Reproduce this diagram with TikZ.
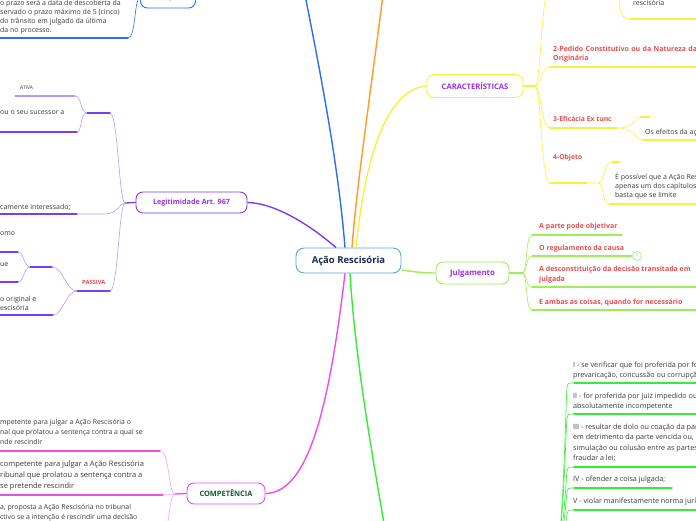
\documentclass[tikz,border=0pt]{standalone}
\usepackage{fontspec}
\setmainfont{Open Sans}
\usetikzlibrary{positioning}

\definecolor{rootline}{HTML}{5AA3E0}
\definecolor{roottext}{HTML}{1B2A4E}
\definecolor{topictext}{HTML}{9B30E8}
\definecolor{lbltext}{HTML}{E84C4C}
\definecolor{itemtext}{HTML}{3A3A3A}
\definecolor{compgreen}{HTML}{145A32}
\definecolor{blu}{HTML}{2D6CF5}
\definecolor{oran}{HTML}{FF9A22}
\definecolor{yel}{HTML}{F6F23A}
\definecolor{yell}{HTML}{FAF77A}
\definecolor{lime}{HTML}{9EEE55}
\definecolor{limel}{HTML}{B4F08A}
\definecolor{grn}{HTML}{33EE33}
\definecolor{mag}{HTML}{EE4CEE}
\definecolor{magl}{HTML}{F6A0F6}
\definecolor{vio}{HTML}{7A3EF2}
\definecolor{viol}{HTML}{B49CFA}

\tikzset{
  root/.style={draw=rootline, rounded corners=8pt, line width=0.9pt, fill=white,
    text=roottext, font=\bfseries\fontsize{9.5}{10}\selectfont,
    minimum width=105pt, minimum height=25pt},
  topic/.style={rounded corners=7pt, line width=0.9pt, fill=white, text=topictext,
    font=\bfseries\fontsize{7.2}{8}\selectfont, inner sep=0pt},
  txt/.style={anchor=north west, inner sep=0pt, align=left, text=itemtext,
    font=\fontsize{7}{9.5}\selectfont},
  lbl/.style={txt, text=lbltext, font=\bfseries\fontsize{7}{9.5}\selectfont},
  hyp/.style={txt, font=\fontsize{7.2}{9.8}\selectfont},
  branch/.style={line width=1.4pt},
  link/.style={line width=0.6pt},
  uline/.style={line width=1.3pt, line cap=round},
}

\begin{document}
\begin{tikzpicture}[x=1pt, y=-1pt]
  \useasboundingbox (0,0) rectangle (696,520);
  \clip (0,0) rectangle (696,520);

  % main topics
  \node[root] (acao) at (348.5,260.5) {Ação Rescisória};
  \node[topic, draw=yel, minimum width=96pt, minimum height=23pt,
    font=\bfseries\fontsize{7.6}{8}\selectfont] (carac) at (475,86) {CARACTERÍSTICAS};
  \node[topic, draw=lime, minimum width=73pt, minimum height=22pt,
    font=\bfseries\fontsize{7.8}{8}\selectfont] (julg) at (472.5,273) {Julgamento};
  \node[topic, draw=vio, minimum width=111pt, minimum height=21pt] (legit) at (191.5,202.5) {Legitimidade Art. 967};
  \node[topic, draw=mag, minimum width=78pt, minimum height=21pt, text=compgreen,
    font=\bfseries\fontsize{7.4}{8}\selectfont] (comp) at (226,493.5) {COMPETÊNCIA};
  \node[topic, draw=blu, minimum width=55pt, minimum height=20pt, text=lbltext,
    font=\bfseries\fontsize{6.8}{8}\selectfont] (excecoes) at (168,-2) {Exceções};

  % points out of the frame
  \coordinate (topblue) at (300,-30);
  \coordinate (toporange) at (386,-30);
  \coordinate (hip) at (392,570);
  \coordinate (hipj) at (556,548);

  % branches of the root
  \draw[branch, blu] ([xshift=-3.5pt]acao.north) .. controls (338,160) and (318,60) .. (topblue);
  \draw[branch, oran] ([xshift=3.5pt]acao.north) .. controls (357,180) and (374,70) .. (toporange);
  \draw[branch, yel] ([xshift=7.5pt]acao.north) .. controls (365,160) and (385,90) .. (carac.west);
  \draw[branch, vio] ([xshift=-12.5pt]acao.north) .. controls (310,225) and (275,203) .. (legit.east);
  \draw[branch, lime] ([yshift=-9.5pt]acao.east) .. controls (415,272) and (425,273) .. (julg.west);
  \draw[branch, mag] ([xshift=-3.5pt]acao.south) .. controls (330,400) and (310,493) .. (comp.east);
  \draw[branch, grn] ([xshift=1.5pt]acao.south) .. controls (356,370) and (375,470) .. (hip);

  % CARACTERISTICAS
  \coordinate (cj) at (535,86);
  \draw[uline, yel] (carac.east) -- (cj);
  \foreach \u in {-12,67,128,183}
    \draw[link, yel] (cj) .. controls (541,86) and (541,\u) .. (550,\u);
  \draw[uline, yel] (550,67) -- (700,67);
  \draw[uline, yel] (550,128) -- (617,128);
  \draw[uline, yel] (550,183) -- (587,183);
  \coordinate (efj) at (617,128);
  \draw[link, yel] (efj) .. controls (636,128) and (634,117) .. (641,117);
  \draw[link, yel] (efj) .. controls (636,128) and (634,140) .. (643,140);
  \draw[uline, yel] (641,117) -- (650,117);
  \draw[uline, yel] (643,140) -- (700,140);
  \coordinate (obj) at (587,183);
  \draw[link, yel] (obj) -- (598,183) .. controls (605,183) and (603,162) .. (612,162);
  \draw[link, yel] (598,183) .. controls (605,183) and (601,204) .. (609,204);
  \draw[uline, yel] (612,162) -- (620,162);
  \draw[uline, yel] (609,204) -- (700,204);
  \coordinate (resj) at (618,-30);
  \draw[link, yel] (resj) .. controls (618,10) and (620,19) .. (630,19);
  \draw[uline, yel] (630,19) -- (700,19);

  \node[txt] (rescis) at (633,-0.5) {rescisória};
  \node[lbl] (pedido) at (553,45.5) {\spaceskip=2.4pt\relax 2-Pedido Constitutivo ou da Natureza da\\Originária};
  \node[lbl, font=\bfseries\fontsize{6.8}{9.5}\selectfont] (eficacia) at (553,116.5) {3-Eficácia Ex tunc};
  \node[txt] (efeitos) at (645,129) {Os efeitos da ação};
  \node[lbl, font=\bfseries\fontsize{6.8}{9.5}\selectfont] (objeto) at (553,154.5) {4-Objeto};
  \node[txt, font=\fontsize{7}{9.3}\selectfont] (possivel) at (615,172.5) {É possível que a Ação Rescisória\\apenas um dos capítulos\\basta que se limite};

  % Julgamento
  \coordinate (jj) at (522,273);
  \draw[uline, lime] (julg.east) -- (jj);
  \foreach \u in {235,256,287,310}
    \draw[link, lime] (jj) .. controls (528,273) and (525,\u) .. (532,\u);
  \draw[uline, lime] (532,235) -- (622,235);
  \draw[uline, lime] (532,256) -- (632,256);
  \draw[uline, lime] (532,287) -- (700,287);
  \draw[uline, lime] (532,310) -- (700,310);
  \node[circle, draw=limel, fill=white, line width=0.8pt, inner sep=0pt, minimum size=9pt,
    text=limel!80!black, font=\fontsize{5}{5}\selectfont] (badge) at (637,256) {1};

  \node[lbl] (objetivar) at (539,223) {A parte pode objetivar};
  \node[lbl] (regulamento) at (539,245) {O regulamento da causa};
  \node[lbl] (descons) at (539,266) {A desconstituição da decisão transitada em\\julgada};
  \node[lbl] (ambas) at (539,299) {E ambas as coisas, quando for necessário};

  % Hipoteses (parent below the frame)
  \foreach \u in {383,414,467,488,510}
    \draw[link, grn] (hipj) .. controls (563,548) and (566,\u+12) .. (567,\u+4)
      .. controls (568,\u) .. (574,\u);
  \foreach \u in {383,414,467,510}
    \draw[uline, grn] (574,\u) -- (700,\u);
  \draw[uline, grn] (574,488) -- (672,488);

  \node[hyp] (h1) at (573,361.5) {I - se verificar que foi proferida por força\\prevaricação, concussão ou corrupção};
  \node[hyp] (h2) at (573,393) {II - for proferida por juiz impedido ou\\absolutamente incompetente};
  \node[hyp, font=\fontsize{7.2}{10.2}\selectfont] (h3) at (573,424) {III - resultar de dolo ou coação da parte\\em detrimento da parte vencida ou,\\simulação ou colusão entre as partes\\fraudar a lei;};
  \node[hyp] (h4) at (573,475.5) {IV - ofender a coisa julgada;};
  \node[hyp] (h5) at (573,498) {V - violar manifestamente norma jurídica};

  % Legitimidade
  \coordinate (lj) at (125,203);
  \draw[uline, vio] (legit.west) -- (lj);
  \draw[link, viol] (lj) .. controls (119,203) and (118,113) .. (110,113);
  \draw[link, viol] (lj) .. controls (119,203) and (118,214) .. (105,214) -- (77,214);
  \draw[link, viol] (lj) .. controls (119,203) and (118,291) .. (110,291);
  \draw[uline, vio] (87,113) -- (110,113);
  \draw[link, viol] (87,113) .. controls (80,113) and (82,96) .. (75,96);
  \draw[link, viol] (87,113) .. controls (80,113) and (82,132) .. (77,132);
  \draw[uline, viol] (15,96) -- (75,96);
  \draw[uline, vio] (-5,132) -- (77,132);
  \draw[uline, vio] (-5,214) -- (77,214);
  \draw[uline, vio] (77,291) -- (110,291);
  \draw[link, viol] (77,291) .. controls (66,291) and (63,267) .. (52,267);
  \draw[link, viol] (77,291) .. controls (66,291) and (63,315) .. (53,315);
  \draw[uline, vio] (30,267) -- (52,267);
  \draw[link, viol] (30,267) .. controls (24,267) and (24,252) .. (18,252);
  \draw[link, viol] (30,267) .. controls (24,267) and (24,282) .. (18,282);
  \draw[uline, vio] (-5,252) -- (18,252);
  \draw[uline, vio] (-5,282) -- (18,282);
  \draw[uline, vio] (-5,315) -- (53,315);

  \node[txt, font=\fontsize{5}{6}\selectfont] (ativa) at (20,85.5) {ATIVA};
  \node[txt] (sucessor) at (0,110.5) {ou o seu sucessor a};
  \node[txt] (interessado) at (0,203.5) {camente interessado;};
  \node[txt] (omo) at (0,231.5) {omo};
  \node[txt] (ue) at (0,262.5) {ue};
  \node[txt] (original) at (0,295.5) {o original e\\escisória};
  \node[lbl, font=\bfseries\fontsize{5.8}{6}\selectfont] (passiva) at (82,280.5) {PASSIVA};

  % Competencia
  \coordinate (cpj) at (175,494);
  \draw[uline, mag] (comp.west) -- (cpj);
  \draw[link, magl] (cpj) .. controls (168,494) and (170,451) .. (160,451);
  \draw[link, magl] (cpj) -- (163,495);
  \draw[link, magl] (cpj) .. controls (168,494) and (170,540) .. (160,540);
  \draw[uline, mag] (-5,451) -- (160,451);
  \draw[uline, mag] (-5,495) -- (163,495);

  \node[txt, font=\fontsize{6.9}{9.7}\selectfont] (compa) at (0,419.5) {mpetente para julgar a Ação Rescisória o\\nal que prolatou a sentença contra a qual se\\nde rescindir};
  \node[txt, font=\fontsize{7.5}{11}\selectfont] (compb) at (0,461) {competente para julgar a Ação Rescisória\\ribunal que prolatou a sentença contra a\\se pretende rescindir};
  \node[txt, font=\fontsize{6.9}{9.7}\selectfont] (compc) at (0,504.5) {a, proposta a Ação Rescisória no tribunal\\ctivo se a intenção é rescindir uma decisão};

  % Excecoes
  \draw[link, blu] (excecoes.west) .. controls (134,-2) and (136,38) .. (128,38);
  \draw[uline, blu] (-5,38) -- (128,38);
  \node[txt, font=\fontsize{7}{9.3}\selectfont] (prazo) at (0,-0.5) {o prazo será a data de descoberta da\\servado o prazo máximo de 5 (cinco)\\do trânsito em julgado da última\\da no processo.};
\end{tikzpicture}
\end{document}
